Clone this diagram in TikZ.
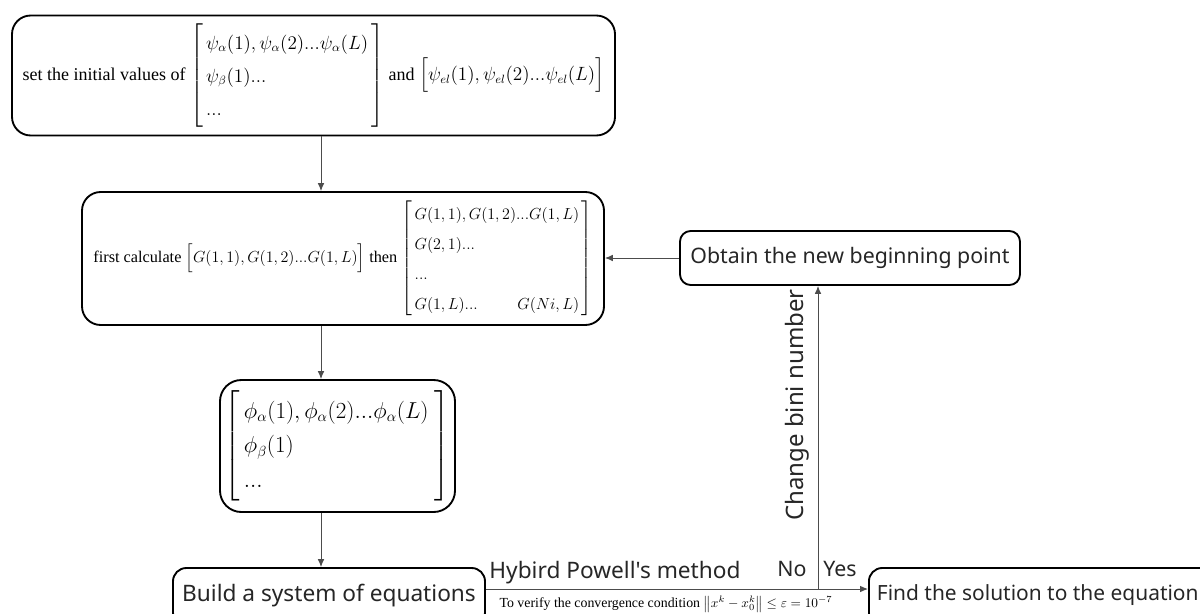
\documentclass[tikz,border=0pt]{standalone}
\usepackage{amsmath}
\usepackage[no-math]{fontspec}
\setmainfont{Liberation Serif}
\newfontfamily\sansf{Noto Sans}
\usetikzlibrary{arrows.meta}
\tikzset{
  bigbox/.style={draw=black, line width=1.4pt, rounded corners=14pt, inner sep=0pt, align=center},
  smallbox/.style={draw=black, line width=1.4pt, rounded corners=8pt, inner sep=0pt},
  conn/.style={draw=black!70, line width=0.7pt, -{Latex[length=6pt,width=5pt]}},
  sanstxt/.style={font=\sansf\fontsize{16}{19}\selectfont, text=black!85, inner sep=0pt},
}
\begin{document}
\begin{tikzpicture}[x=0.75pt,y=-0.75pt]
\useasboundingbox (0,0) rectangle (1200,614);

\node[bigbox, minimum width=603*0.75pt, minimum height=120*0.75pt, font=\fontsize{13.5}{16}\selectfont] (b1) at (313.5,75.5)
 {set the initial values of $\renewcommand\arraystretch{1.55}\left[\begin{array}{@{\,}l@{\,}}\psi_{\alpha}(1),\psi_{\alpha}(2)...\psi_{\alpha}(L)\\ \psi_{\beta}(1)...\\ ...\end{array}\right]$ and $\Bigl[\psi_{el}(1),\psi_{el}(2)...\psi_{el}(L)\Bigr]$};

\node[bigbox, minimum width=522*0.75pt, minimum height=133*0.75pt, font=\fontsize{12.2}{14.5}\selectfont] (b2) at (343,258.5)
 {first calculate $\Bigl[G(1,1),G(1,2)...G(1,L)\Bigr]$ then $\renewcommand\arraystretch{1.55}\left[\begin{array}{@{\,}l@{}r@{\,}}\multicolumn{2}{@{\,}l@{\,}}{G(1,1),G(1,2)...G(1,L)}\\ \multicolumn{2}{@{\,}l@{\,}}{G(2,1)...}\\ \multicolumn{2}{@{\,}l@{\,}}{...}\\ G(1,L)... & G(Ni,L)\end{array}\right]$};

\node[bigbox, rounded corners=16pt, minimum width=235*0.75pt, minimum height=132*0.75pt, font=\fontsize{16}{19}\selectfont] (b3) at (337.5,446)
 {$\renewcommand\arraystretch{1.38}\left[\begin{array}{@{\,}l@{\;}}\phi_{\alpha}(1),\phi_{\alpha}(2)...\phi_{\alpha}(L)\\ \phi_{\beta}(1)\\ ...\end{array}\right]$};

\node[smallbox, rounded corners=10pt, minimum width=312*0.75pt, minimum height=58*0.75pt, sanstxt, font=\sansf\fontsize{17}{20}\selectfont, draw=black] (b4) at (329,597) {\raisebox{6.5pt}{Build a system of equations}};

\node[smallbox, minimum width=340*0.75pt, minimum height=54*0.75pt, sanstxt, draw=black] (ob) at (850,258) {Obtain the new beginning point};

\node[smallbox, rounded corners=10pt, anchor=west, minimum height=58*0.75pt, sanstxt, font=\sansf\fontsize{15.7}{19}\selectfont, draw=black, inner xsep=6pt] (fs) at (868,597) {\raisebox{6.5pt}{Find the solution to the equation}\hspace*{20pt}};

\coordinate (ax) at (321,0);
\coordinate (jn) at (818,589);

\draw[conn] (b1.south -| ax) -- (b2.north -| ax);
\draw[conn] (b2.south -| ax) -- (b3.north -| ax);
\draw[conn] (b3.south -| ax) -- (b4.north -| ax);
\draw[conn] (b4.east |- jn) -- (fs.west |- jn);
\draw[conn] (jn) -- (ob.south -| jn);
\draw[conn] (ob.west) -- (b2.east |- ob.west);

\node[sanstxt, font=\sansf\fontsize{17}{20}\selectfont] (hp) at (615,573) {Hybird Powell's method};
\node[sanstxt] (no) at (792,569) {No};
\node[sanstxt] (yes) at (840,569) {Yes};
\node[sanstxt, font=\sansf\fontsize{18}{21}\selectfont, rotate=90] (cb) at (797,405) {Change bini number};
\node[inner sep=0pt, font=\fontsize{10.4}{12}\selectfont] (cv) at (666,604) {To verify the convergence condition $\left\|x^{k}-x_{0}^{k}\right\|\le\varepsilon=10^{-7}$};
\end{tikzpicture}
\end{document}
